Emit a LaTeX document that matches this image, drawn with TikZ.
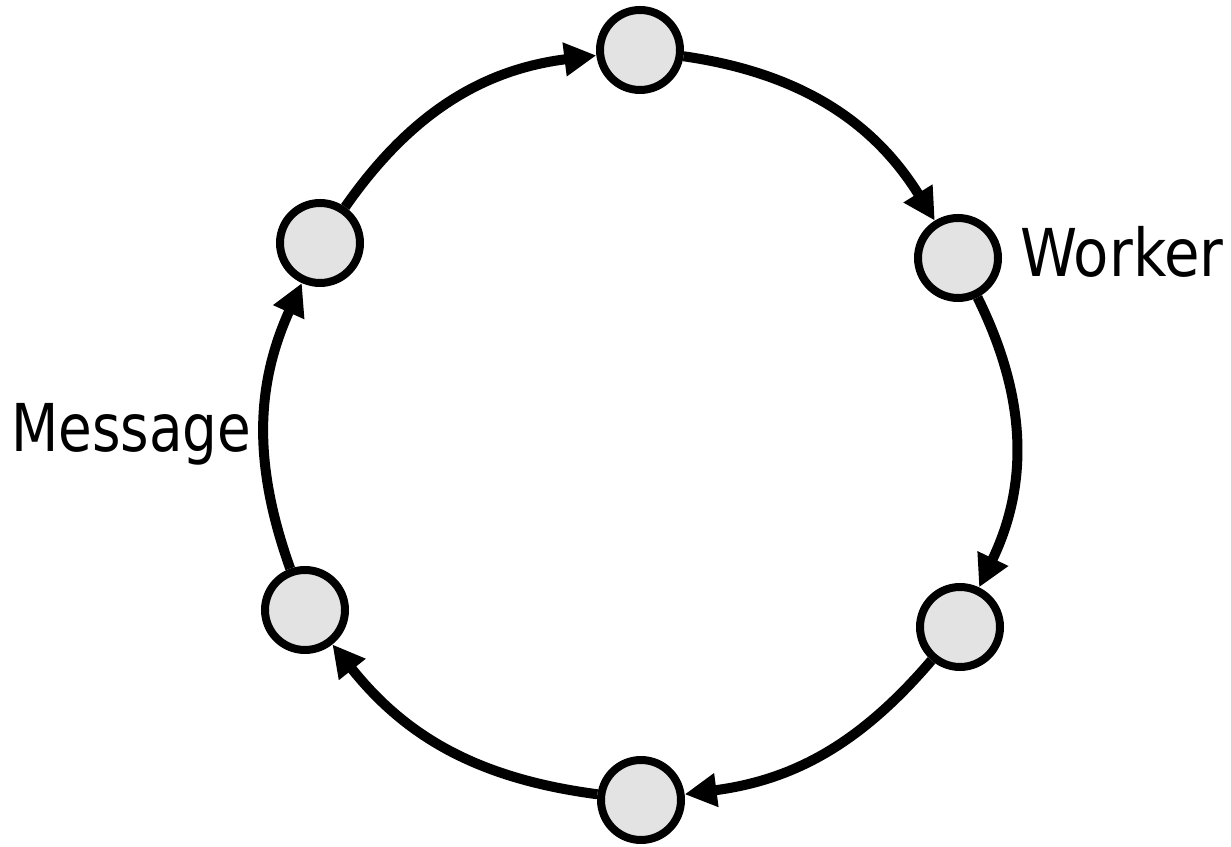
\documentclass[tikz,border=0pt]{standalone}
\usepackage{fontspec}
\usepackage{graphicx}
\setmainfont{DejaVu Sans}
\usetikzlibrary{arrows.meta}
\definecolor{nodegray}{HTML}{E3E3E3}
\tikzset{
  worker/.style={circle, draw=black, line width=8pt, fill=nodegray, minimum size=80pt, inner sep=0pt},
  msgarrow/.style={line width=10pt, black, -{Triangle[length=32pt,width=32pt]}},
  lbl/.style={font=\fontsize{66}{66}\selectfont, inner sep=0pt}
}
\begin{document}
\begin{tikzpicture}[x=1pt,y=1pt]
\useasboundingbox (0,0) rectangle (1231,846);
\node[worker] (T)  at (640,796) {};
\node[worker] (RU) at (958,588) {};
\node[worker] (RL) at (960,219) {};
\node[worker] (B)  at (641,46) {};
\node[worker] (LL) at (305,236) {};
\node[worker] (LU) at (320,603) {};
\draw[msgarrow] (LU) to[bend left=24] (T);
\draw[msgarrow] (T) to[bend left=25] (RU);
\draw[msgarrow] (RU) to[bend left=26] (RL);
\draw[msgarrow] (RL) to[bend left=21] (B);
\draw[msgarrow] (B) to[bend left=22] (LL);
\draw[msgarrow] (LL) to[bend left=22] (LU);
\node[lbl, anchor=base west] (msg) at (11,394) {\scalebox{0.83}[1]{Message}};
\node[lbl, anchor=base west] (wrk) at (1020,569) {\scalebox{0.875}[1]{Worker}};
\end{tikzpicture}
\end{document}
